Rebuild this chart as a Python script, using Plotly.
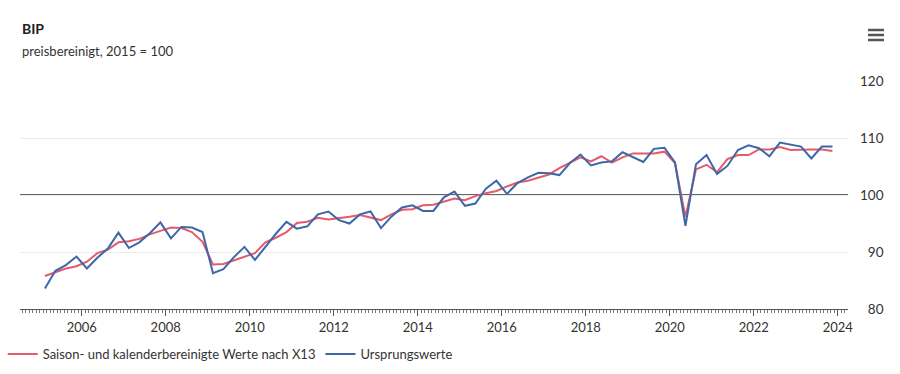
import pandas as pd
import plotly.graph_objects as go

# Quarters 2005Q1 .. 2023Q4
quarters = [f"{y}Q{q}" for y in range(2005, 2024) for q in range(1, 5)]

# Saison- und kalenderbereinigte Werte nach X13
sa_values = [
    85.8, 86.4, 87.1, 87.5,   # 2005
    88.3, 89.8, 90.4, 91.7,   # 2006
    91.9, 92.3, 93.1, 93.7,   # 2007
    94.3, 94.2, 93.5, 91.8,   # 2008
    87.8, 87.9, 88.5, 89.1,   # 2009
    89.8, 91.7, 92.5, 93.5,   # 2010
    95.1, 95.3, 96.0, 95.7,   # 2011
    95.9, 96.2, 96.5, 96.1,   # 2012
    95.6, 96.6, 97.4, 97.5,   # 2013
    98.2, 98.3, 98.8, 99.4,   # 2014
    99.1, 99.8, 100.3, 100.7, # 2015
    101.5, 102.2, 102.5, 103.0, # 2016
    103.6, 104.7, 105.6, 106.6, # 2017
    105.9, 106.8, 105.7, 106.6, # 2018
    107.3, 107.3, 107.3, 107.6, # 2019
    105.6, 96.2, 104.5, 105.3,  # 2020
    104.0, 106.3, 107.0, 107.0, # 2021
    108.0, 108.0, 108.4, 107.9, # 2022
    108.0, 108.0, 108.0, 107.7, # 2023
]

# Ursprungswerte
orig_values = [
    83.6, 86.7, 87.7, 89.2,   # 2005
    87.1, 89.0, 90.6, 93.4,   # 2006
    90.7, 91.7, 93.3, 95.2,   # 2007
    92.4, 94.4, 94.3, 93.5,   # 2008
    86.3, 87.0, 89.1, 90.9,   # 2009
    88.6, 90.9, 93.2, 95.3,   # 2010
    94.1, 94.5, 96.6, 97.1,   # 2011
    95.6, 95.0, 96.6, 97.1,   # 2012
    94.2, 96.2, 97.8, 98.2,   # 2013
    97.2, 97.2, 99.6, 100.6,  # 2014
    98.1, 98.5, 101.1, 102.5, # 2015
    100.2, 102.1, 103.1, 103.9, # 2016
    103.8, 103.5, 105.6, 107.1, # 2017
    105.2, 105.7, 105.9, 107.5, # 2018
    106.6, 105.8, 108.1, 108.3, # 2019
    105.7, 94.6, 105.4, 107.0,  # 2020
    103.7, 105.1, 107.9, 108.7, # 2021
    108.2, 106.8, 109.2, 108.9, # 2022
    108.5, 106.4, 108.5, 108.5, # 2023
]

y_ticks = [80, 90, 100, 110, 120]
y_ticktext = ["\u200780", "\u200790", "100", "110", "120"]

# mid-quarter dates
def mid_quarter(q):
    p = pd.Period(q, freq="Q")
    return p.start_time + (p.end_time - p.start_time) / 2

dates = [mid_quarter(q) for q in quarters]

RED = "#e55b6b"
BLUE = "#3d68a8"
FONT = "Lato"

W, H = 900, 374
L, R, T, B = 20, 52, 81, 65
PW, PH = W - L - R, H - T - B

def px_x(x):
    return (x - L) / PW

def px_y(y):
    return (H - B - y) / PH

fig = go.Figure()
fig.add_trace(go.Scatter(x=dates, y=sa_values, mode="lines",
                         name="Saison- und kalenderbereinigte Werte nach X13",
                         line=dict(color=RED, width=2)))
fig.add_trace(go.Scatter(x=dates, y=orig_values, mode="lines",
                         name="Ursprungswerte",
                         line=dict(color=BLUE, width=2)))

fig.add_shape(type="line", xref="paper", x0=0, x1=1, yref="y", y0=100, y1=100,
              line=dict(color="#333333", width=1.3), layer="between")

# hamburger menu icon
for yy in [30, 35, 40]:
    fig.add_shape(type="line", xref="paper", yref="paper",
                  x0=px_x(868), x1=px_x(884), y0=px_y(yy), y1=px_y(yy),
                  line=dict(color="#555555", width=2.5))

fig.update_layout(
    width=W, height=H,
    margin=dict(l=L, r=R, t=T, b=B, autoexpand=False),
    paper_bgcolor="white", plot_bgcolor="white",
    font=dict(family=FONT, size=13, color="#333333"),
    showlegend=True,
    legend=dict(orientation="h", xref="container", yref="container",
                x=0.003, y=(H - 354) / H, xanchor="left", yanchor="middle",
                font=dict(size=13, color="#333333"), itemwidth=30,
                traceorder="normal"),
    annotations=[
        dict(text="<b>BIP</b>", xref="paper", yref="paper",
             x=0, y=px_y(29), xanchor="left", yanchor="middle",
             showarrow=False, font=dict(size=14, color="#222222", family=FONT)),
        dict(text="preisbereinigt, 2015 = 100", xref="paper", yref="paper",
             x=0, y=px_y(51), xanchor="left", yanchor="middle",
             showarrow=False, font=dict(size=13, color="#333333", family=FONT)),
    ],
    xaxis=dict(type="date", range=["2004-07-13", "2024-03-30"],
               showgrid=False, showline=True, linecolor="#555555", linewidth=1,
               ticks="outside", ticklen=6, tickcolor="#555555",
               dtick="M24", tick0="2006-01-01", tickformat="%Y",
               tickfont=dict(size=13, color="#333333"),
               minor=dict(dtick="M1", tick0="2006-01-01", ticks="outside",
                          ticklen=3, tickcolor="#777777", showgrid=False),
               zeroline=False, fixedrange=True),
    yaxis=dict(range=[80, 120], side="right", tickvals=y_ticks, ticktext=y_ticktext,
               showgrid=True, gridcolor="#ebebeb", gridwidth=1,
               showline=False, zeroline=False, ticks="",
               ticklabelstandoff=11,
               tickfont=dict(size=13.5, color="#333333"), fixedrange=True),
)

fig.write_html("out.html", config={"displayModeBar": False},
               post_script="document.body.style.margin='0';")
